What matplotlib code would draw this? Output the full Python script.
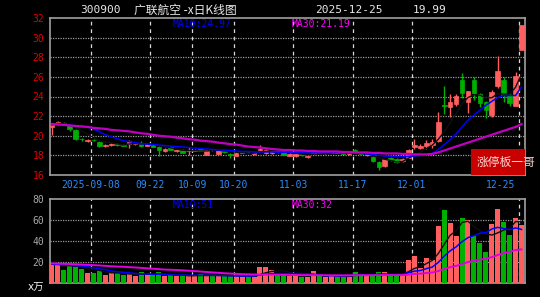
import matplotlib
matplotlib.use("Agg")
import matplotlib.pyplot as plt
import numpy as np
import pandas as pd

# ---------------- data ----------------
opens = [20.9, 21.2, 21.3, 20.95, 20.6, 19.7, 19.5, 19.6, 19.4, 19.0,
         19.1, 19.2, 19.1, 19.2, 19.2, 19.3, 19.0, 19.1, 18.9, 18.4,
         18.9, 18.4, 18.55, 18.4, 18.45, 18.6, 18.05, 18.55, 18.1, 18.45,
         18.1, 17.95, 18.25, 18.35, 18.1, 18.55, 18.2, 18.2, 18.5, 18.4,
         17.95, 17.9, 18.1, 17.8, 18.1, 18.35, 18.2, 18.25, 18.35, 18.3,
         18.1, 18.5, 18.3, 18.0, 17.85, 17.35, 16.9, 17.75, 17.6, 17.4,
         17.75, 18.9, 18.8, 18.95, 19.05, 19.45, 23.1, 22.95, 23.2, 25.7,
         23.4, 25.7, 24.3, 23.4, 22.1, 25.1, 25.7, 24.15, 23.07, 28.7]
highs = [21.3, 21.5, 21.4, 21.0, 20.7, 19.8, 19.7, 19.7, 19.5, 19.15,
         19.3, 19.25, 19.15, 19.6, 19.4, 19.45, 19.25, 19.2, 19.0, 18.75,
         19.0, 18.65, 18.6, 18.9, 18.6, 18.7, 18.6, 18.7, 18.55, 18.55,
         18.2, 18.3, 18.35, 18.4, 18.3, 19.1, 18.6, 18.8, 18.6, 18.5,
         18.2, 18.15, 18.15, 18.05, 18.4, 18.45, 18.35, 18.4, 18.4, 18.35,
         18.3, 18.6, 18.35, 18.2, 17.95, 17.4, 17.65, 17.85, 17.7, 17.7,
         18.6, 19.7, 19.2, 19.6, 19.7, 22.45, 25.1, 24.3, 24.3, 26.4,
         24.6, 26.0, 24.4, 23.5, 24.7, 28.1, 26.0, 24.4, 26.5, 31.3]
lows = [20.1, 21.1, 21.1, 20.5, 19.6, 19.5, 19.4, 19.45, 18.9, 18.9,
        19.0, 19.0, 18.95, 18.75, 19.1, 18.9, 18.95, 18.85, 17.9, 18.35,
        18.5, 18.35, 18.2, 18.0, 18.4, 18.4, 18.0, 18.4, 18.0, 18.2,
        17.7, 17.9, 18.2, 18.25, 18.05, 18.4, 18.1, 18.1, 18.2, 18.0,
        17.9, 17.85, 17.95, 17.75, 18.05, 18.2, 18.15, 18.2, 18.2, 18.1,
        18.05, 18.2, 18.0, 17.9, 17.3, 16.5, 16.85, 17.4, 17.2, 17.3,
        17.7, 18.7, 18.6, 18.65, 18.8, 19.4, 22.2, 21.95, 23.0, 23.8,
        22.35, 23.6, 22.9, 21.85, 21.9, 24.9, 23.4, 23.0, 23.0, 28.7]
closes = [21.1, 21.4, 21.2, 20.65, 19.65, 19.62, 19.6, 19.55, 18.95, 19.1,
          19.2, 19.05, 19.0, 19.45, 19.3, 19.0, 19.15, 18.9, 18.55, 18.7,
          18.55, 18.55, 18.25, 18.45, 18.55, 18.45, 18.55, 18.5, 18.5, 18.3,
          18.05, 18.25, 18.3, 18.3, 18.2, 18.7, 18.5, 18.7, 18.3, 18.05,
          18.15, 18.1, 18.0, 17.95, 18.35, 18.25, 18.3, 18.35, 18.25, 18.15,
          18.2, 18.25, 18.1, 18.1, 17.4, 16.8, 17.6, 17.5, 17.35, 17.6,
          18.55, 19.05, 18.95, 19.3, 19.4, 21.44, 23.0, 23.45, 24.05, 24.4,
          24.57, 24.4, 23.3, 22.6, 24.5, 26.6, 24.2, 23.3, 26.08, 31.3]
volumes = [19.4, 17.8, 12.4, 16.5, 15.6, 13.3, 9.8, 9.8, 11.7, 7.6,
           9.8, 9.2, 7.6, 8.6, 6.7, 10.2, 8.3, 8.3, 10.2, 6.7,
           7.6, 6.7, 6.7, 6.7, 7.0, 8.6, 6.7, 7.6, 6.7, 6.7,
           6.7, 6.7, 6.0, 6.0, 6.0, 15.5, 15.5, 12.4, 7.6, 7.6,
           7.0, 7.0, 6.0, 6.0, 11.4, 7.0, 6.0, 7.0, 6.0, 6.0,
           6.0, 10.8, 8.6, 6.7, 6.7, 10.2, 10.2, 6.7, 8.3, 6.7,
           22.0, 25.7, 14.0, 24.0, 22.0, 54.6, 69.5, 57.4, 44.8, 62.2,
           60.0, 45.0, 37.8, 29.2, 56.2, 70.5, 58.4, 45.7, 61.6, 55.2]
ma10 = [21.2, 21.2, 21.15, 21.1, 21.0, 20.95, 20.9, 20.7, 20.4, 20.1,
        19.9, 19.7, 19.5, 19.4, 19.3, 19.2, 19.15, 19.1, 19.05, 19.0,
        18.95, 18.9, 18.85, 18.8, 18.75, 18.7, 18.65, 18.6, 18.55, 18.55,
        18.5, 18.45, 18.4, 18.4, 18.35, 18.35, 18.35, 18.35, 18.3, 18.3,
        18.3, 18.3, 18.25, 18.25, 18.25, 18.3, 18.3, 18.3, 18.3, 18.3,
        18.3, 18.25, 18.2, 18.15, 18.1, 18.0, 17.95, 17.9, 17.85, 17.85,
        17.9, 17.95, 18.0, 18.05, 18.2, 18.6, 19.1, 19.6, 20.2, 20.9,
        21.6, 22.1, 22.6, 23.1, 23.5, 23.9, 24.1, 24.1, 24.1, 24.97]
ma30 = [21.2, 21.15, 21.1, 21.05, 21.0, 20.95, 20.9, 20.8, 20.75, 20.7,
        20.6, 20.55, 20.5, 20.45, 20.35, 20.25, 20.2, 20.1, 20.0, 19.95,
        19.9, 19.8, 19.74, 19.65, 19.6, 19.5, 19.45, 19.4, 19.3, 19.23,
        19.15, 19.1, 19.0, 18.9, 18.85, 18.8, 18.72, 18.65, 18.6, 18.55,
        18.55, 18.5, 18.5, 18.45, 18.45, 18.4, 18.4, 18.4, 18.4, 18.35,
        18.35, 18.3, 18.3, 18.3, 18.25, 18.25, 18.2, 18.2, 18.2, 18.15,
        18.15, 18.1, 18.1, 18.1, 18.15, 18.3, 18.5, 18.7, 18.9, 19.1,
        19.3, 19.5, 19.7, 19.9, 20.1, 20.3, 20.5, 20.7, 20.9, 21.19]
vma10 = [17.8, 17.6, 17.2, 16.8, 16.5, 16.3, 15.5, 14.5, 13.5, 12.6,
         11.4, 10.8, 10.2, 9.6, 9.1, 8.8, 8.6, 8.4, 8.3, 8.0,
         7.8, 7.6, 7.6, 7.5, 7.4, 7.4, 7.3, 7.2, 7.1, 7.0,
         6.9, 6.8, 6.7, 6.7, 6.7, 7.6, 8.4, 8.9, 9.0, 9.0,
         9.0, 9.0, 8.9, 8.9, 8.4, 7.6, 6.9, 6.9, 6.8, 6.8,
         7.1, 7.4, 7.6, 7.5, 7.5, 7.7, 8.1, 8.1, 8.3, 8.3,
         9.8, 11.3, 11.9, 13.7, 15.2, 19.6, 25.6, 30.6, 34.4, 39.4,
         43.2, 45.1, 47.5, 48.0, 51.4, 53.0, 51.9, 50.8, 52.5, 51.0]
vma30 = [18.7, 18.5, 18.3, 18.1, 17.9, 17.6, 17.3, 17.0, 16.7, 16.3,
         16.0, 15.7, 15.5, 15.1, 14.8, 14.4, 14.0, 13.6, 13.2, 12.8,
         12.6, 12.4, 12.1, 11.7, 11.3, 10.9, 10.5, 10.1, 9.7, 9.3,
         9.0, 8.7, 8.4, 8.3, 8.1, 8.1, 8.0, 7.9, 7.8, 7.8,
         7.7, 7.6, 7.5, 7.5, 7.5, 7.4, 7.4, 7.3, 7.3, 7.3,
         7.3, 7.4, 7.4, 7.4, 7.4, 7.5, 7.6, 7.5, 7.5, 7.5,
         8.0, 8.6, 8.9, 9.5, 10.0, 11.4, 13.4, 15.1, 16.3, 18.1,
         19.9, 21.2, 22.3, 23.1, 24.6, 26.7, 28.4, 29.7, 31.4, 32.0]
tick_idx = [7, 17, 24, 31, 41, 51, 61, 79]
tick_labels = ["2025-09-08", "09-22", "10-09", "10-20", "11-03", "11-17", "12-01", "12-25"]
price_ticks = [16, 18, 20, 22, 24, 26, 28, 30, 32]
vol_ticks = [20, 40, 60, 80]
code = "300900"
name = "广联航空 -x日K线图"
date_str = "2025-12-25"
chg_str = "19.99"

# ---------------- style ----------------
W, H = 540, 297
BG = "#000000"
UP = "#ff5f5f"
DN = "#00b000"
FRAME = "#a0a0a0"
MONO = "DejaVu Sans Mono"
plt.rcParams['font.family'] = ['DejaVu Sans Mono', 'Noto Sans CJK SC']

fig = plt.figure(figsize=(W / 100, H / 100), dpi=100, facecolor=BG)

def fx(px):
    return px / W

def fy(py):
    return 1 - py / H

axp = fig.add_axes([fx(50), fy(175), fx(525) - fx(50), fy(18) - fy(175)], facecolor=BG)
axv = fig.add_axes([fx(50), fy(283), fx(525) - fx(50), fy(199) - fy(283)], facecolor=BG)

n = len(closes)
x = np.arange(n)
o = np.array(opens); c = np.array(closes); h = np.array(highs); l = np.array(lows)
up = c >= o
cols = np.where(up, UP, DN)
XL = (-0.32, 79.59)

for ax in (axp, axv):
    ax.set_xlim(*XL)
    for s in ax.spines.values():
        s.set_color(FRAME)
        s.set_linewidth(1.2)
    ax.set_xticks([])
    ax.tick_params(axis='y', length=0, pad=4)
    for ti in tick_idx:
        ax.axvline(ti - 0.42, color="#d8d8d8", lw=0.9, ls=(0, (3, 3)), zorder=1)

# price panel
axp.set_ylim(16, 32)
axp.set_yticks(price_ticks)
axp.set_yticklabels([str(t) for t in price_ticks], color="#e00000", fontsize=7, family=MONO)
for t in price_ticks[1:-1]:
    axp.axhline(t, color="#9a9a9a", lw=0.9, ls=(0, (1, 1)), zorder=1)

axp.vlines(x, l, h, colors=cols, lw=1, zorder=3)
body_lo = np.minimum(o, c)
body_h = np.maximum(np.abs(c - o), 0.06)
axp.bar(x, body_h, bottom=body_lo, width=0.78, color=cols, edgecolor=cols, lw=0.5, zorder=4)

ma5 = pd.Series(c).rolling(5, min_periods=1).mean().values
axp.plot(x, ma5, color="#101010", lw=1, zorder=5)
axp.plot(x, ma10, color="#0000ff", lw=1.1, zorder=5)
axp.plot(x, ma30, color="#c000c0", lw=1.6, zorder=5)

# red badge
axp.add_patch(plt.Rectangle((0.8855, 0.0), 0.1145, 0.165, transform=axp.transAxes,
                            facecolor="#c80000", edgecolor="none", zorder=6, clip_on=False))
fig.text(fx(477), fy(162), "涨停板一哥", color="#ffd8d8", fontsize=8.5,
         family=['Noto Sans CJK SC'], va='center', ha='left', zorder=7)

# volume panel
axv.set_ylim(0, 80)
axv.set_yticks(vol_ticks)
axv.set_yticklabels([str(t) for t in vol_ticks], color="#a8a8a8", fontsize=7, family=MONO)
for t in vol_ticks[:-1]:
    axv.axhline(t, color="#9a9a9a", lw=0.9, ls=(0, (1, 1)), zorder=1)
axv.bar(x, volumes, width=0.84, color=cols, edgecolor='none', zorder=3)
vma5 = pd.Series(volumes).rolling(5, min_periods=1).mean().values
axv.plot(x, vma5, color="#101010", lw=1, zorder=5)
axv.plot(x, vma10, color="#0000ff", lw=1.1, zorder=5)
axv.plot(x, vma30, color="#e000e0", lw=1.4, zorder=5)

# date labels (last one pulled inside the frame)
for k, (ti, lab) in enumerate(zip(tick_idx, tick_labels)):
    xp = axp.transData.transform((ti - 0.42, 0))[0]
    if k == len(tick_idx) - 1:
        xp = min(xp, 501)
    fig.text(xp / fig.bbox.width, fy(185), lab, color="#2a8cff",
             fontsize=7, family=MONO, ha='center', va='center')

# header
fig.text(fx(80), fy(10), code, color="#e8e8e8", fontsize=8, family=MONO, va='center')
fig.text(fx(134), fy(10), name, color="#e8e8e8", fontsize=8.5,
         family=['Noto Sans CJK SC', 'DejaVu Sans'], va='center')
fig.text(fx(315), fy(10), date_str, color="#e8e8e8", fontsize=8, family=MONO, va='center')
fig.text(fx(413), fy(10), chg_str, color="#e8e8e8", fontsize=8, family=MONO, va='center')

# legends
fig.text(fx(173), fy(24), "MA10:%.2f" % ma10[-1], color="#0000ff", fontsize=7, family=MONO, va='center')
fig.text(fx(292), fy(24), "MA30:%.2f" % ma30[-1], color="#ff00ff", fontsize=7, family=MONO, va='center')
fig.text(fx(173), fy(205), "MA10:%d" % round(vma10[-1]), color="#0000ff", fontsize=7, family=MONO, va='center')
fig.text(fx(292), fy(205), "MA30:%d" % round(vma30[-1]), color="#ff00ff", fontsize=7, family=MONO, va='center')
fig.text(fx(28), fy(288), "x万", color="#f0f0f0", fontsize=7.5,
         family=['DejaVu Sans', 'Noto Sans CJK SC'], va='center')

fig.savefig("out.png", dpi=100, facecolor=BG)
